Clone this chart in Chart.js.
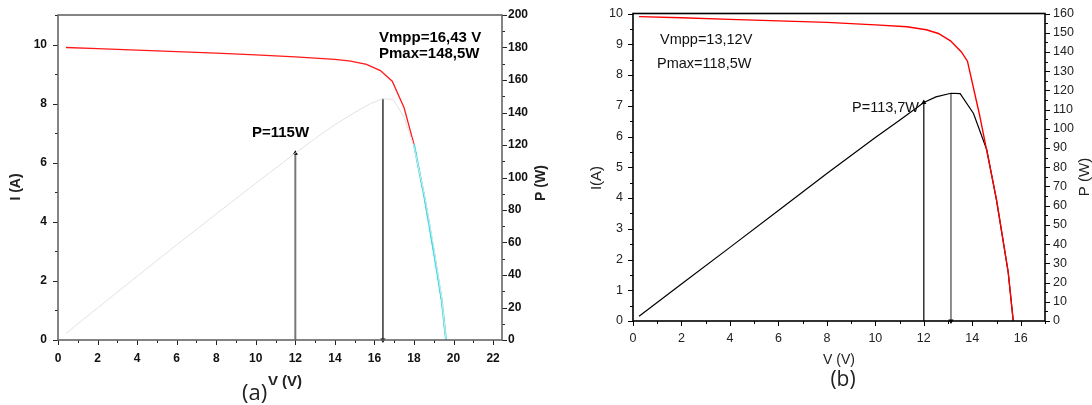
<!DOCTYPE html>
<html>
<head>
<meta charset="utf-8">
<script src="https://cdn.jsdelivr.net/npm/chart.js@4.4.1/dist/chart.umd.min.js"></script>
<style>
  html, body { margin: 0; padding: 0; background: #fff; }
  #wrap { position: relative; width: 1092px; height: 405px; overflow: hidden; background: #fff; }
  #chartA { position: absolute; left: 0; top: 0; }
  #chartB { position: absolute; left: 560px; top: 0; }
</style>
</head>
<body>
<div id="wrap">
  <canvas id="chartA" width="560" height="405"></canvas>
  <canvas id="chartB" width="532" height="405"></canvas>
</div>
<script>
// ---------- Panel (a): module I–V and P–V curves ----------
const voltageA = [0.4, 2, 4, 6, 8, 10, 12, 14, 14.8, 15.6, 16.3, 16.9, 17.5, 18.0, 18.55, 19.0, 19.4, 19.62];
const currentA = [9.9, 9.86, 9.81, 9.76, 9.71, 9.65, 9.58, 9.5, 9.44, 9.33, 9.12, 8.76, 7.86, 6.62, 4.75, 3.0, 1.35, 0];
const tailVoltageA = [18.0, 18.55, 19.0, 19.4, 19.62];
const tailCurrentA = [6.62, 4.75, 3.0, 1.35, 0];
const powerVoltageA = [0.4, 2, 4, 6, 8, 10, 12, 13, 14, 15, 15.8, 16.43, 16.95, 17.5, 18.0, 18.55, 19.0, 19.4, 19.62];
const powerA = [4, 19.7, 39.2, 58.5, 77.6, 96.4, 115, 124, 132.5, 140, 145.5, 148.5, 148, 137, 119, 88, 57, 26, 0];
const markVoltageA = 12, markPowerA = 115;      // P=115W
const mppVoltageA = 16.43, mppPowerA = 148.5;   // Vmpp / Pmax

// ---------- Panel (b) ----------
const voltageB = [0.25, 2, 4, 6, 8, 10, 11.3, 12.1, 12.6, 13.1, 13.55, 13.8, 14.3, 15.0, 15.48, 15.69];
const currentB = [9.9, 9.86, 9.81, 9.76, 9.71, 9.63, 9.57, 9.47, 9.35, 9.11, 8.75, 8.45, 6.7, 3.95, 1.6, 0];
const powerVoltageB = [0.25, 2, 4, 6, 8, 10, 11, 12, 12.5, 13.12, 13.5, 14.05, 14.6, 15.0, 15.48, 15.69];
const powerB = [2.5, 19.2, 38.3, 57.5, 76.8, 95.5, 104.5, 113.7, 116.6, 118.5, 118.3, 108, 89, 62.8, 25.5, 0];
const markVoltageB = 12, markPowerB = 113.7;    // P=113,7W
const mppVoltageB = 13.12, mppPowerB = 118.5;   // Vmpp / Pmax

const pts = (xs, ys) => xs.map((x, i) => ({ x, y: ys[i] }));

// Frame round the plot area plus outward major/minor tick marks
const axisFrame = (st) => ({
  id: 'axisFrame',
  afterDatasetsDraw(chart) {
    const { ctx, chartArea: a } = chart;
    ctx.save();
    ctx.strokeStyle = st.tickColor;
    ctx.lineWidth = st.tickWidth;
    for (const id of Object.keys(chart.scales)) {
      const s = chart.scales[id];
      s.ticks.forEach(t => {
        const len = t.label !== '' ? st.major : st.minor;
        const p = Math.round(s.getPixelForValue(t.value)) + 0.5;
        ctx.beginPath();
        if (s.position === 'bottom') { ctx.moveTo(p, a.bottom); ctx.lineTo(p, a.bottom + len); }
        else if (s.position === 'left') { ctx.moveTo(a.left, p); ctx.lineTo(a.left - len, p); }
        else { ctx.moveTo(a.right, p); ctx.lineTo(a.right + len, p); }
        ctx.stroke();
      });
    }
    ctx.strokeStyle = st.frameColor;
    ctx.lineWidth = st.frameWidth;
    ctx.strokeRect(a.left, a.top, a.right - a.left, a.bottom - a.top);
    ctx.restore();
  }
});

// Free text: annotations, axis titles, panel letters
const notes = (items) => ({
  id: 'notes',
  afterDraw(chart) {
    const ctx = chart.ctx;
    items.forEach(it => {
      ctx.save();
      ctx.font = it.font;
      ctx.textAlign = it.align || 'left';
      ctx.textBaseline = 'alphabetic';
      ctx.translate(it.x, it.y);
      if (it.rot) ctx.rotate(it.rot);
      if (it.box) {
        ctx.fillStyle = '#fff';
        ctx.fillRect(it.box[0], it.box[1], it.box[2], it.box[3]);
      }
      ctx.fillStyle = it.color || '#000';
      ctx.fillText(it.text, 0, 0);
      ctx.restore();
    });
  }
});

function fixedScale(opts) {
  const { size, vertical, ...rest } = opts;
  return Object.assign({
    type: 'linear',
    border: { display: false },
    grid: { display: true, drawOnChartArea: false, drawTicks: true, tickLength: 4, color: 'rgba(0,0,0,0)' },
    afterFit(scale) { if (vertical) scale.width = size; else scale.height = size; }
  }, rest);
}

const labelEvery = (step) => (v) => {
  const r = Math.abs(v / step - Math.round(v / step));
  return r < 1e-6 ? String(Math.round(v * 100) / 100) : '';
};

// ---------- Chart (a) ----------
const fontA = { family: 'Liberation Sans, Arial, sans-serif', size: 12, weight: 'bold' };
new Chart(document.getElementById('chartA'), {
  type: 'line',
  data: {
    datasets: [
      { data: pts(powerVoltageA, powerA), yAxisID: 'y1', borderColor: '#e2e2e2', borderWidth: 1, pointRadius: 0, tension: 0 },
      { data: pts(tailVoltageA, tailCurrentA), yAxisID: 'y', borderColor: '#22e5f0', borderWidth: 2, pointRadius: 0, tension: 0 },
      { data: pts(voltageA, currentA), yAxisID: 'y', borderColor: '#ff1a1a', borderWidth: 1.3, pointRadius: 0, tension: 0,
        segment: { borderDash: c => (c.p0.parsed.x >= 17.99 ? [4, 3] : undefined) } },
      { data: [{ x: markVoltageA, y: 0 }, { x: markVoltageA, y: markPowerA }], yAxisID: 'y1', clip: false,
        borderColor: '#777', borderWidth: 2, pointRadius: [0, 3], pointStyle: 'triangle', pointRotation: 0,
        pointBackgroundColor: '#000', pointBorderColor: '#000', pointBorderWidth: 0 },
      { data: [{ x: mppVoltageA, y: mppPowerA }, { x: mppVoltageA, y: 0 }], yAxisID: 'y1', clip: false,
        borderColor: '#000', borderWidth: 1.2, pointRadius: [0, 3], pointStyle: 'triangle', pointRotation: 180,
        pointBackgroundColor: '#000', pointBorderColor: '#000', pointBorderWidth: 0 }
    ]
  },
  options: {
    responsive: false, animation: false, events: [],
    layout: { padding: { top: 15, left: 0, right: 0, bottom: 0 } },
    plugins: { legend: { display: false }, tooltip: { enabled: false } },
    scales: {
      x: fixedScale({ position: 'bottom', size: 65, min: 0, max: 22.45,
        ticks: { stepSize: 1, includeBounds: false, autoSkip: false, maxRotation: 0, padding: 7, color: '#111', font: fontA, callback: labelEvery(2) } }),
      y: fixedScale({ position: 'left', vertical: true, size: 58, min: 0, max: 11,
        ticks: { stepSize: 1, includeBounds: false, autoSkip: false, padding: 7, color: '#111', font: fontA, callback: labelEvery(2) } }),
      y1: fixedScale({ position: 'right', vertical: true, size: 58, min: 0, max: 200,
        ticks: { stepSize: 10, includeBounds: false, autoSkip: false, padding: 2, color: '#111', font: fontA, callback: labelEvery(20) } })
    }
  },
  plugins: [
    axisFrame({ tickColor: '#222', tickWidth: 1, major: 5, minor: 3, frameColor: '#666', frameWidth: 1.6 }),
    notes([
      { text: 'Vmpp=16,43 V', x: 379, y: 42, font: 'bold 15px Liberation Sans, Arial, sans-serif' },
      { text: 'Pmax=148,5W', x: 379, y: 58, font: 'bold 15px Liberation Sans, Arial, sans-serif' },
      { text: 'P=115W', x: 252, y: 137, font: 'bold 15px Liberation Sans, Arial, sans-serif' },
      { text: 'I (A)', x: 20, y: 187, rot: -Math.PI / 2, align: 'center', font: 'bold 14px Liberation Sans, Arial, sans-serif', color: '#222' },
      { text: 'P (W)', x: 545, y: 183, rot: -Math.PI / 2, align: 'center', font: 'bold 14px Liberation Sans, Arial, sans-serif', color: '#222' },
      { text: 'V (V)', x: 285, y: 386, align: 'center', font: 'bold 15px Liberation Sans, Arial, sans-serif', color: '#222' },
      { text: '(a)', x: 242, y: 400, font: '22px Open Sans, Liberation Sans, sans-serif', color: '#222', box: [-2, -15, 37, 25] }
    ])
  ]
});

// ---------- Chart (b) ----------
const fontB = { family: 'Liberation Sans, Arial, sans-serif', size: 12.5 };
new Chart(document.getElementById('chartB'), {
  type: 'line',
  data: {
    datasets: [
      { data: pts(voltageB, currentB), yAxisID: 'y', borderColor: '#ff0000', borderWidth: 1.4, pointRadius: 0, tension: 0 },
      { data: pts(powerVoltageB, powerB), yAxisID: 'y1', borderColor: '#000', borderWidth: 1.2, pointRadius: 0, tension: 0 },
      { data: [{ x: markVoltageB, y: 0 }, { x: markVoltageB, y: markPowerB }], yAxisID: 'y1', clip: false,
        borderColor: '#000', borderWidth: 1.2, pointRadius: [0, 3], pointStyle: 'triangle', pointRotation: 0,
        pointBackgroundColor: '#000', pointBorderColor: '#000', pointBorderWidth: 0 },
      { data: [{ x: mppVoltageB, y: mppPowerB }, { x: mppVoltageB, y: 0 }], yAxisID: 'y1', clip: false,
        borderColor: '#444', borderWidth: 1.2, pointRadius: [0, 3], pointStyle: 'triangle', pointRotation: 180,
        pointBackgroundColor: '#000', pointBorderColor: '#000', pointBorderWidth: 0 }
    ]
  },
  options: {
    responsive: false, animation: false, events: [],
    layout: { padding: { top: 13, left: 0, right: 0, bottom: 0 } },
    plugins: { legend: { display: false }, tooltip: { enabled: false } },
    scales: {
      x: fixedScale({ position: 'bottom', size: 84, min: 0, max: 17,
        ticks: { stepSize: 1, includeBounds: false, autoSkip: false, maxRotation: 0, padding: 6, color: '#222', font: fontB, callback: labelEvery(2) } }),
      y: fixedScale({ position: 'left', vertical: true, size: 73, min: 0, max: 10,
        ticks: { stepSize: 0.5, includeBounds: false, autoSkip: false, padding: 6, color: '#222', font: fontB, callback: labelEvery(1) } }),
      y1: fixedScale({ position: 'right', vertical: true, size: 47, min: 0, max: 160,
        ticks: { stepSize: 5, includeBounds: false, autoSkip: false, padding: 4, color: '#222', font: fontB, callback: labelEvery(10) } })
    }
  },
  plugins: [
    axisFrame({ tickColor: '#000', tickWidth: 1, major: 5, minor: 3, frameColor: '#000', frameWidth: 1.6 }),
    notes([
      { text: 'Vmpp=13,12V', x: 100, y: 43.5, font: '14.5px Liberation Sans, Arial, sans-serif', color: '#111' },
      { text: 'Pmax=118,5W', x: 97, y: 67.5, font: '14.5px Liberation Sans, Arial, sans-serif', color: '#111' },
      { text: 'P=113,7W', x: 292, y: 111.5, font: '14.5px Liberation Sans, Arial, sans-serif', color: '#111' },
      { text: 'I(A)', x: 41, y: 178, rot: -Math.PI / 2, align: 'center', font: '15px Liberation Sans, Arial, sans-serif', color: '#222' },
      { text: 'P (W)', x: 529, y: 177, rot: -Math.PI / 2, align: 'center', font: '15px Liberation Sans, Arial, sans-serif', color: '#222' },
      { text: 'V (V)', x: 279, y: 364, align: 'center', font: '14px Liberation Sans, Arial, sans-serif', color: '#222' },
      { text: '(b)', x: 283, y: 386, align: 'center', font: '21px Open Sans, Liberation Sans, sans-serif', color: '#222' }
    ])
  ]
});
</script>
</body>
</html>
